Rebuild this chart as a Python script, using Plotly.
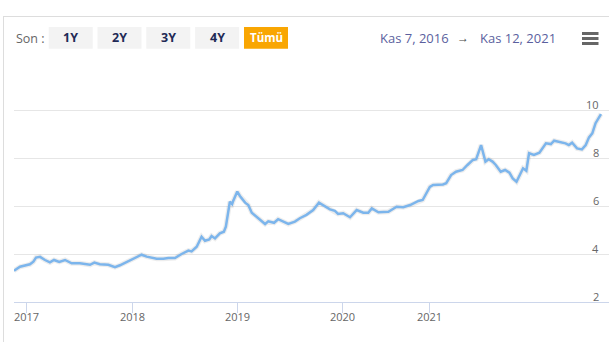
import numpy as np
import pandas as pd
import plotly.graph_objects as go

# ---------------- data ----------------
dates = [
    "2016-11-07", "2016-12-03", "2017-01-12", "2017-01-24", "2017-02-02", "2017-02-16",
    "2017-03-05", "2017-03-22", "2017-04-05", "2017-04-23", "2017-05-13", "2017-06-05",
    "2017-07-03", "2017-08-07", "2017-08-22", "2017-09-10", "2017-10-09", "2017-11-01",
    "2017-11-18", "2017-12-17", "2018-01-09", "2018-02-01", "2018-02-19", "2018-03-26",
    "2018-04-18", "2018-05-06", "2018-05-29", "2018-06-21", "2018-07-15", "2018-07-26",
    "2018-08-13", "2018-08-30", "2018-09-11", "2018-09-26", "2018-10-04", "2018-10-16",
    "2018-11-02", "2018-11-16", "2018-11-23", "2018-12-07", "2018-12-15", "2018-12-19",
    "2019-01-02", "2019-01-11", "2019-01-29", "2019-02-09", "2019-02-21", "2019-03-10",
    "2019-03-21", "2019-04-08", "2019-04-19", "2019-05-09", "2019-05-23", "2019-06-10",
    "2019-06-27", "2019-07-20", "2019-08-06", "2019-08-29", "2019-09-21", "2019-10-11",
    "2019-10-26", "2019-11-18", "2019-12-05", "2019-12-16", "2020-01-03", "2020-02-01",
    "2020-02-29", "2020-03-28", "2020-04-18", "2020-05-03", "2020-05-31", "2020-06-21",
    "2020-07-12", "2020-08-16", "2020-09-13", "2020-10-12", "2020-11-16", "2020-12-04",
    "2021-01-02", "2021-01-08", "2021-01-26", "2021-02-01", "2021-02-10", "2021-02-19",
    "2021-03-03", "2021-03-12", "2021-03-22", "2021-03-28", "2021-04-06", "2021-04-14",
    "2021-04-20", "2021-04-27", "2021-05-03", "2021-05-12", "2021-05-20", "2021-05-28",
    "2021-06-03", "2021-06-10", "2021-06-16", "2021-06-22", "2021-06-28", "2021-07-03",
    "2021-07-12", "2021-07-22", "2021-08-03", "2021-08-12", "2021-08-18", "2021-08-27",
    "2021-09-08", "2021-09-14", "2021-09-20", "2021-09-29", "2021-10-08", "2021-10-15",
    "2021-10-21", "2021-10-27", "2021-11-02", "2021-11-12",
]
values = [
    3.30, 3.47, 3.57, 3.68, 3.85, 3.88,
    3.75, 3.65, 3.75, 3.67, 3.75, 3.61,
    3.61, 3.55, 3.64, 3.57, 3.55, 3.45,
    3.53, 3.71, 3.86, 3.97, 3.89, 3.80,
    3.80, 3.83, 3.83, 4.00, 4.14, 4.11,
    4.30, 4.72, 4.55, 4.61, 4.75, 4.65,
    4.86, 4.93, 5.14, 6.18, 6.08, 6.22,
    6.60, 6.42, 6.14, 6.04, 5.72, 5.55,
    5.45, 5.25, 5.36, 5.30, 5.45, 5.35,
    5.25, 5.35, 5.49, 5.63, 5.83, 6.14,
    6.04, 5.86, 5.80, 5.67, 5.70, 5.53,
    5.83, 5.72, 5.72, 5.90, 5.74, 5.76,
    5.76, 5.97, 5.95, 6.04, 6.21, 6.25,
    6.80, 6.88, 6.90, 6.95, 7.29, 7.43,
    7.50, 7.71, 7.92, 7.95, 8.54, 7.85,
    7.95, 7.85, 7.71, 7.43, 7.50, 7.39,
    7.15, 7.01, 7.29, 7.57, 7.47, 8.20,
    8.13, 8.22, 8.61, 8.58, 8.72, 8.68,
    8.61, 8.54, 8.64, 8.40, 8.36, 8.54,
    8.86, 9.03, 9.45, 9.83,
]
year_tick_dates = ["2017-01-01", "2018-01-01", "2019-01-01", "2020-01-01", "2021-01-01"]
year_tick_labels = ["2017", "2018", "2019", "2020", "2021"]
y_tick_values = [2, 4, 6, 8, 10]
range_buttons = ["1Y", "2Y", "3Y", "4Y", "Tümü"]
range_prefix = "Son :"
range_from = "Kas 7, 2016"
range_to = "Kas 12, 2021"
header_text = "yatırılmıştır"

# ---------------- ordinal axis (Highcharts-stock style) ----------------
ordinal_anchor_dates = ["2016-11-07", "2017-01-01", "2018-01-01", "2019-01-01",
                        "2020-01-01", "2021-01-01", "2021-11-12"]
ordinal_anchor_pos = [0, 12.7, 118.7, 223, 328.7, 415.3, 587]


def to_ord(ds):
    t = pd.to_datetime(pd.Series(ds)).astype("int64").to_numpy()
    a = pd.to_datetime(pd.Series(ordinal_anchor_dates)).astype("int64").to_numpy()
    return np.interp(t, a, ordinal_anchor_pos)


x_ord = to_ord(dates)
tick_pos = to_ord(year_tick_dates)

# ---------------- layout geometry ----------------
W, H = 609, 342
L, R, T, B = 14, 0, 62, 40
PW, PH = W - L - R, H - T - B


def px(x):
    return (x - L) / PW


def py(y):
    return (H - B - y) / PH


FONT = "Open Sans, Arial, sans-serif"
LINE = "#7cb5ec"

fig = go.Figure()
fig.add_trace(go.Scatter(x=x_ord, y=values, mode="lines",
                         line=dict(color="rgba(0,0,0,0.07)", width=5),
                         hoverinfo="skip", showlegend=False))
fig.add_trace(go.Scatter(x=x_ord, y=values, mode="lines",
                         line=dict(color=LINE, width=2.5),
                         customdata=dates,
                         hovertemplate="%{customdata}: %{y:.2f}<extra></extra>",
                         showlegend=False))

shapes = []
annotations = []

# outer frame (top and left border)
shapes.append(dict(type="line", xref="paper", yref="paper",
                   x0=px(3), x1=px(609), y0=py(16.5), y1=py(16.5),
                   line=dict(color="#dddddd", width=1)))
shapes.append(dict(type="line", xref="paper", yref="paper",
                   x0=px(3.5), x1=px(3.5), y0=py(16.5), y1=py(342),
                   line=dict(color="#dddddd", width=1)))

# header text of the page above the chart (cut off by the top edge, as in the reference)
annotations.append(dict(text=header_text, xref="paper", yref="paper",
                        x=px(0), y=py(3), xanchor="left", yanchor="bottom",
                        showarrow=False, font=dict(family=FONT, size=13, color="#333333")))

# range selector
annotations.append(dict(text=range_prefix, xref="paper", yref="paper",
                        x=px(14), y=py(38.5), xanchor="left", yanchor="middle",
                        showarrow=False, font=dict(family=FONT, size=12.5, color="#666666")))
btn_left = [48.7, 97.5, 146.3, 195.1, 244]
for i, label in enumerate(range_buttons):
    x0 = btn_left[i]
    x1 = x0 + 44
    selected = (i == len(range_buttons) - 1)
    shapes.append(dict(type="rect", xref="paper", yref="paper",
                       x0=px(x0), x1=px(x1), y0=py(48.7), y1=py(27),
                       line=dict(width=0),
                       fillcolor="#f9a602" if selected else "#f3f3f3"))
    annotations.append(dict(text="<b>%s</b>" % label, xref="paper", yref="paper",
                            x=px((x0 + x1) / 2), y=py(38), xanchor="center", yanchor="middle",
                            showarrow=False,
                            font=dict(family=FONT, size=11.5 if selected else 12.5,
                                      color="#ffffff" if selected else "#1f2a56")))

# date range inputs
annotations.append(dict(text=range_from, xref="paper", yref="paper",
                        x=px(414), y=py(38), xanchor="center", yanchor="middle",
                        showarrow=False, font=dict(family=FONT, size=13, color="#5b5f9e")))
annotations.append(dict(text="→", xref="paper", yref="paper",
                        x=px(463), y=py(38), xanchor="center", yanchor="middle",
                        showarrow=False, font=dict(family=FONT, size=12, color="#444444")))
annotations.append(dict(text=range_to, xref="paper", yref="paper",
                        x=px(517.5), y=py(38), xanchor="center", yanchor="middle",
                        showarrow=False, font=dict(family=FONT, size=13, color="#5b5f9e")))

# hamburger menu
for yy in (33.5, 38.5, 43.5):
    shapes.append(dict(type="line", xref="paper", yref="paper",
                       x0=px(582), x1=px(598.5), y0=py(yy), y1=py(yy),
                       line=dict(color="#666666", width=3)))

# x tick labels (placed close under the tick marks, like Highcharts)
for pos, lab in zip(tick_pos, year_tick_labels):
    annotations.append(dict(text=lab, xref="x", yref="paper", x=pos, y=py(316),
                            xanchor="center", yanchor="middle", showarrow=False,
                            font=dict(family=FONT, size=11, color="#666666")))

# y tick labels: right-aligned inside the plot, just above their grid lines
for v in y_tick_values:
    annotations.append(dict(text=str(v), xref="paper", yref="y", x=px(601), y=v,
                            xanchor="right", yanchor="middle", yshift=6, showarrow=False,
                            font=dict(family=FONT, size=11, color="#666666")))

fig.update_layout(
    width=W, height=H,
    margin=dict(l=L, r=R, t=T, b=B, pad=0),
    paper_bgcolor="#ffffff", plot_bgcolor="#ffffff",
    font=dict(family=FONT, size=11, color="#666666"),
    shapes=shapes, annotations=annotations,
    showlegend=False,
    xaxis=dict(range=[0, PW], tickmode="array", tickvals=tick_pos,
               showticklabels=False,
               ticks="outside", ticklen=10, tickcolor="#ccd6eb", tickwidth=1,
               showline=True, linecolor="#ccd6eb", linewidth=1,
               showgrid=False, zeroline=False, fixedrange=True),
    yaxis=dict(range=[2, 12], tickmode="array", tickvals=y_tick_values,
               showticklabels=False,
               showgrid=True, gridcolor="#e6e6e6", gridwidth=1,
               zeroline=False, showline=False, ticks="", fixedrange=True),
)

fig.write_html("out.html")
